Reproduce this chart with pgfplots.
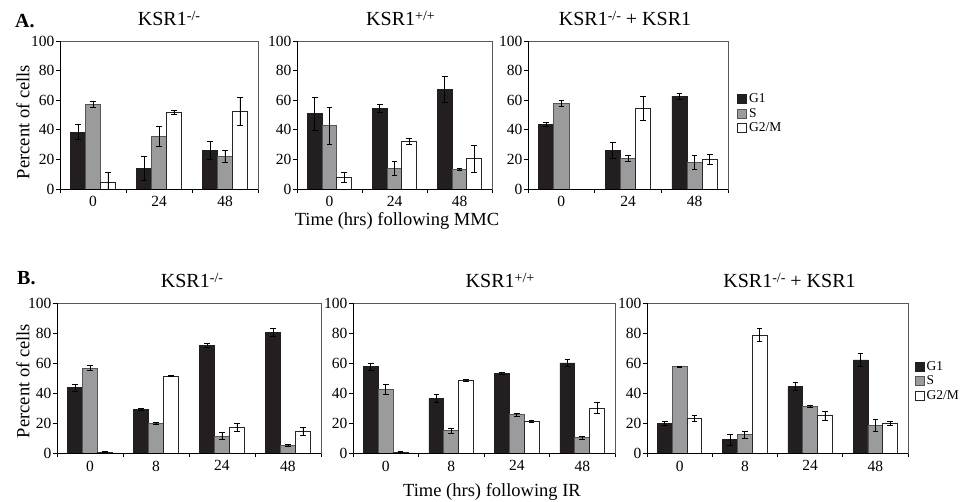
\documentclass[border=0pt]{standalone}
\usepackage{fontspec}
\setmainfont{Liberation Serif}
\usepackage{pgfplots}
\usepackage{pgfplotstable}
\pgfplotsset{compat=1.18}

\definecolor{gone}{RGB}{35,31,32}
\definecolor{sph}{RGB}{155,155,158}
\definecolor{sedge}{RGB}{85,85,85}

% x  g1 g1e  s se  g2 g2e   (MMC)
\pgfplotstableread{
x g1 g1e s se g2 g2e
0 38.5 5 57 2 4.3 7
1 14 8 35.6 6.5 51.5 1.3
2 26 6 21.8 4 52.6 9.5
}\aone
\pgfplotstableread{
x g1 g1e s se g2 g2e
0 50.8 11 42.7 12.5 7.9 3.4
1 54.6 2.7 14 4.5 32.3 2.2
2 67.3 9 13.3 0.7 20.5 9
}\atwo
\pgfplotstableread{
x g1 g1e s se g2 g2e
0 43.6 1.5 57.8 2 nan nan
1 26 5.6 20.8 2.2 54.6 8
2 62.8 2 18 4.6 20 3.3
}\athree
% IR
\pgfplotstableread{
x g1 g1e s se g2 g2e
0 43.6 2.4 56.6 1.8 0.7 0.5
1 29.2 0.7 19.5 0.6 51.3 0.5
2 71.7 1.5 11.3 2.4 17 2.7
3 80.5 2.5 5.3 0.6 14.4 2.6
}\bone
\pgfplotstableread{
x g1 g1e s se g2 g2e
0 57.4 2.6 42.2 3.3 0.7 0.3
1 36.3 2.6 15 1.7 48.6 0.6
2 53 0.6 25.5 0.9 21 0.8
3 60 2.6 10.1 1 29.9 3.7
}\btwo
\pgfplotstableread{
x g1 g1e s se g2 g2e
0 19.7 1.3 57.5 0.5 23 2.2
1 8.8 3.8 12.2 2.2 78.5 4.4
2 44.2 2.7 31 0.6 24.8 2.9
3 62 4.4 18.6 4 19.5 1.3
}\bthree

\pgfplotsset{
  panel/.style={
    scale only axis, anchor=south west,
    ybar, bar width=0.227,
    ymin=0, ymax=100, ytick={0,20,...,100},
    xmin=-0.5,
    ytick pos=left, xtick pos=bottom,
    tick align=outside,
    major tick length=4pt, minor tick length=4pt,
    major x tick style={draw=none},
    minor x tick style={draw=black, line width=0.8pt},
    ytick style={draw=black, line width=0.8pt},
    axis line style={draw=black!65, line width=0.8pt},
    tick label style={font=\fontsize{15.5}{17}\selectfont, text=black, inner sep=1.5pt},
    xticklabel style={yshift=-2pt},
    /pgf/number format/assume math mode=true,
    title style={font=\fontsize{20}{22}\selectfont, at={(0.5,1)}, anchor=base, yshift=9pt},
    after end axis/.code={\draw[black, line width=0.8pt] (rel axis cs:0,1) -- (rel axis cs:0,0) -- (rel axis cs:1,0);},
  },
  sq/.style={legend image code/.code={\draw[##1] (0pt,-4.5pt) rectangle (9pt,4.5pt);}},
  eb/.style={error bars/.cd, y dir=both, y explicit,
    error bar style={black, line width=0.8pt},
    error mark options={black, rotate=90, mark size=2.8pt, line width=0.8pt}},
  pg1/.style={fill=gone, draw=gone, line width=0.8pt, bar shift=-0.227, sq, eb},
  ps/.style={fill=sph, draw=sedge, line width=0.8pt, bar shift=0, sq, eb},
  pg2/.style={fill=white, draw=black!85, line width=0.8pt, bar shift=0.227, sq, eb},
  leg/.style={legend style={at={(#1)}, anchor=west, draw=none, fill=none,
    inner sep=0pt, font=\fontsize{13.5}{15}\selectfont, cells={anchor=west},
    row sep=0pt, /tikz/every even column/.append style={column sep=0pt}}},
}

\newcommand{\bars}[1]{%
  \addplot[pg1] table[x=x, y=g1, y error=g1e] {#1};
  \addplot[ps] table[x=x, y=s, y error=se] {#1};
  \addplot[pg2] table[x=x, y=g2, y error=g2e] {#1};
}
\newcommand{\geno}[1]{\raisebox{0.62ex}{\fontsize{14}{14}\selectfont #1}}

\begin{document}
\begin{tikzpicture}
\path[use as bounding box] (0,0) rectangle (963pt,502pt);

\node[anchor=base west, font=\bfseries\fontsize{20}{22}\selectfont, inner sep=0pt] at (15pt,474pt) {A.};
\node[anchor=base west, font=\bfseries\fontsize{20}{22}\selectfont, inner sep=0pt] at (17pt,217pt) {B.};
\node[rotate=90, font=\fontsize{18.5}{20}\selectfont] at (23pt,380pt) {Percent of cells};
\node[rotate=90, font=\fontsize{18.5}{20}\selectfont] at (23pt,121pt) {Percent of cells};
\node[anchor=base, font=\fontsize{18.5}{20}\selectfont, inner sep=0pt] at (397pt,276pt) {Time (hrs) following MMC};
\node[anchor=base, font=\fontsize{18.5}{20}\selectfont, inner sep=0pt] at (492pt,5pt) {Time (hrs) following IR};

% --- A: MMC ---
\begin{axis}[panel, at={(60pt,313pt)}, width=198pt, height=148pt,
  xmax=2.5, xtick={0,1,2}, xticklabels={0,24,48}, minor xtick={-0.5,0.5,1.5,2.5},
  title={KSR1\geno{-/-}}, title style={xshift=10pt}]
\bars{\aone}
\end{axis}
\begin{axis}[panel, at={(297pt,313pt)}, width=195pt, height=148pt,
  xmax=2.5, xtick={0,1,2}, xticklabels={0,24,48}, minor xtick={-0.5,0.5,1.5,2.5},
  title={KSR1\geno{+/+}}, title style={xshift=6pt}]
\bars{\atwo}
\end{axis}
\begin{axis}[panel, at={(528pt,313pt)}, width=200pt, height=148pt,
  xmax=2.5, xtick={0,1,2}, xticklabels={0,24,48}, minor xtick={-0.5,0.5,1.5,2.5},
  title={KSR1\geno{-/-} + KSR1}, title style={xshift=-3pt},
  leg={1.045,0.51}]
\bars{\athree}
\legend{G1,S,G2/M}
\end{axis}

% --- B: IR ---
\begin{axis}[panel, at={(57pt,49pt)}, width=264pt, height=150pt,
  xmax=3.5, xtick={0,1,2,3}, xticklabels={0,8,24,48}, minor xtick={-0.5,0.5,1.5,2.5,3.5},
  title={KSR1\geno{-/-}}, title style={xshift=3pt}]
\bars{\bone}
\end{axis}
\begin{axis}[panel, at={(353pt,49pt)}, width=262pt, height=150pt,
  xmax=3.5, xtick={0,1,2,3}, xticklabels={0,8,24,48}, minor xtick={-0.5,0.5,1.5,2.5,3.5},
  title={KSR1\geno{+/+}}, title style={xshift=16pt}]
\bars{\btwo}
\end{axis}
\begin{axis}[panel, at={(647pt,49pt)}, width=261pt, height=150pt,
  xmax=3.5, xtick={0,1,2,3}, xticklabels={0,8,24,48}, minor xtick={-0.5,0.5,1.5,2.5,3.5},
  title={KSR1\geno{-/-} + KSR1}, title style={xshift=12pt},
  leg={1.025,0.48}]
\bars{\bthree}
\legend{G1,S,G2/M}
\end{axis}
\end{tikzpicture}
\end{document}
